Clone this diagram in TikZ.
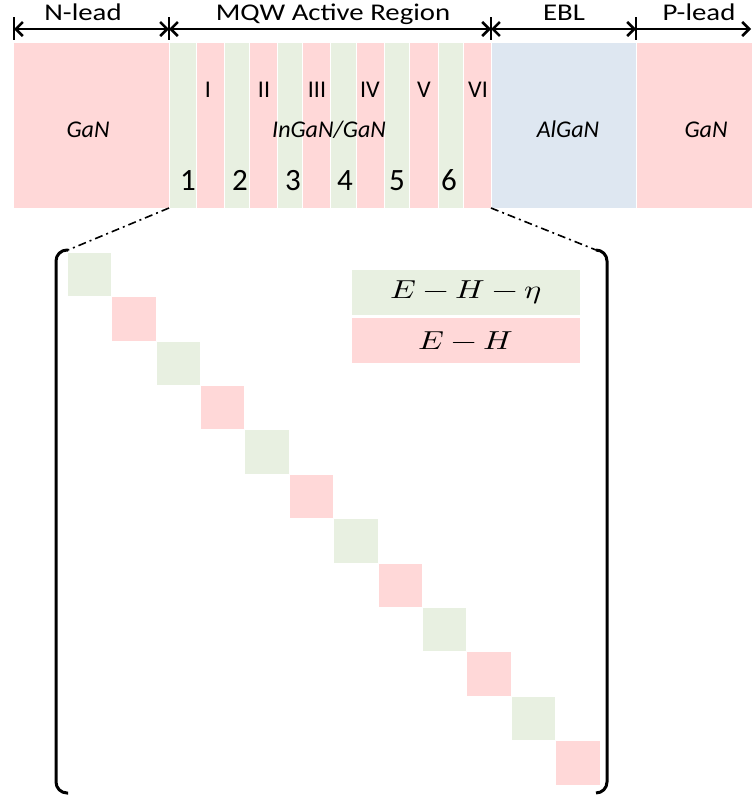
\documentclass[tikz,border=0pt]{standalone}
\usepackage{fontspec}
\usepackage{unicode-math}
\setmainfont{Carlito}
\setmathfont{Latin Modern Math}
\newfontfamily\hdrfont[FakeStretch=1.2]{Carlito}
\usepackage{graphicx}
\usetikzlibrary{arrows.meta}
\definecolor{cpink}{RGB}{255,216,216}
\definecolor{cgreen}{RGB}{232,240,225}
\definecolor{cblue}{RGB}{222,231,241}
\begin{document}
\begin{tikzpicture}[x=1pt,y=-1pt,
  blk/.style={draw=white, line width=0.6pt, inner sep=0pt, outer sep=0pt, anchor=north west, minimum height=166pt},
  sq/.style={draw=white, line width=0.5pt, inner sep=0pt, outer sep=0pt, anchor=north west, minimum size=44.4pt},
  leg/.style={inner sep=0pt, outer sep=0pt, minimum width=228pt, minimum height=45pt, font=\fontsize{26}{30}\selectfont},
  hdr/.style={font=\hdrfont\fontsize{24}{28}\selectfont, anchor=base, inner sep=0pt},
  roman/.style={font=\fontsize{24}{28}\selectfont, anchor=base, inner sep=0pt},
  digit/.style={font=\fontsize{31}{36}\selectfont, anchor=base, inner sep=0pt},
  mat/.style={font=\itshape\fontsize{24}{28}\selectfont, anchor=base, inner sep=0pt},
  dim/.style={line width=2.5pt, {Straight Barb[length=7pt,width=14pt]}-{Straight Barb[length=7pt,width=14pt]}},
  dimr/.style={line width=2.5pt, -{Straight Barb[length=7pt,width=14pt]}},
  barline/.style={line width=2pt},
  dashdot/.style={line width=1.6pt, dash pattern=on 8pt off 4pt on 2pt off 4pt},
  brk/.style={line width=3pt, rounded corners=11pt}
]
\useasboundingbox (0,0) rectangle (752,801);

% --- layer band ---
\node[blk, fill=cpink,  minimum width=156pt] (nGaN) at (13,42) {};
\node[blk, fill=cgreen, minimum width=27pt] (g1) at (169,42) {};
\node[blk, fill=cpink,  minimum width=28pt] (p1) at (196,42) {};
\node[blk, fill=cgreen, minimum width=25pt] (g2) at (224,42) {};
\node[blk, fill=cpink,  minimum width=28pt] (p2) at (249,42) {};
\node[blk, fill=cgreen, minimum width=25pt] (g3) at (277,42) {};
\node[blk, fill=cpink,  minimum width=28pt] (p3) at (302,42) {};
\node[blk, fill=cgreen, minimum width=26pt] (g4) at (330,42) {};
\node[blk, fill=cpink,  minimum width=28pt] (p4) at (356,42) {};
\node[blk, fill=cgreen, minimum width=25pt] (g5) at (384,42) {};
\node[blk, fill=cpink,  minimum width=29pt] (p5) at (409,42) {};
\node[blk, fill=cgreen, minimum width=25pt] (g6) at (438,42) {};
\node[blk, fill=cpink,  minimum width=28pt] (p6) at (463,42) {};
\node[blk, fill=cblue,  minimum width=145pt] (ebl) at (491,42) {};
\node[blk, fill=cpink,  minimum width=116pt] (pGaN) at (636,42) {};

% --- band labels ---
\node[mat] (lGaN1) at (88,137) {GaN};
\node[mat] (lInGaN) at (329,137) {InGaN/GaN};
\node[mat] (lAlGaN) at (568,137) {AlGaN};
\node[mat] (lGaN2) at (706,137) {GaN};

\node[roman] (r1) at (208,97) {I};
\node[roman] (r2) at (264,97) {II};
\node[roman] (r3) at (317,97) {III};
\node[roman] (r4) at (370,97) {IV};
\node[roman] (r5) at (424,97) {V};
\node[roman] (r6) at (478,97) {VI};

\node[digit] (d1) at (188,190) {1};
\node[digit] (d2) at (240,190) {2};
\node[digit] (d3) at (293,190) {3};
\node[digit] (d4) at (345,190) {4};
\node[digit] (d5) at (397,190) {5};
\node[digit] (d6) at (449,190) {6};

% --- header dimension arrows ---
\coordinate (h0) at (14,29);
\coordinate (h1) at (169,29);
\coordinate (h2) at (491,29);
\coordinate (h3) at (636,29);
\coordinate (h4) at (751,29);
\draw[dim] (h0) -- (h1);
\draw[dim] (h1) -- (h2);
\draw[dim] (h2) -- (h3);
\draw[dimr] (h3) -- (h4);
\foreach \h in {h0,h1,h2,h3}{
  \draw[barline] (\h) ++(0,-12) -- ++(0,23);
}
\node[hdr] (tN) at (83,20) {N-lead};
\node[hdr] (tM) at (333,20) {MQW Active Region};
\node[hdr] (tE) at (564,20) {EBL};
\node[hdr] (tP) at (699,20) {P-lead};

% --- zoom lines and bracket ---
\coordinate (lbt) at (68,250);
\coordinate (lbb) at (68,793);
\coordinate (rbt) at (596,250);
\coordinate (rbb) at (596,793);
\draw[dashdot] (g1.south west) -- (lbt);
\draw[dashdot] (p6.south east) -- (rbt);
\draw[brk] (lbt) -- (56,250) -- (56,793) -- (lbb);
\draw[brk] (rbt) -- (607,250) -- (607,793) -- (rbb);

% --- diagonal blocks ---
\foreach \i in {0,...,11}{
  \pgfmathtruncatemacro\m{mod(\i,2)}
  \ifnum\m=0 \def\cc{cgreen}\else\def\cc{cpink}\fi
  \node[sq, fill=\cc] (sq\i) at ({67+44.4*\i},{252+44.4*\i}) {};
}

% --- legend ---
\node[leg, fill=cgreen] (lg1) at (466,292.5) {\scalebox{1.25}[1]{$E-H-\eta$}};
\node[leg, fill=cpink]  (lg2) at (466,340.5) {\scalebox{1.25}[1]{$E-H$}};
\end{tikzpicture}
\end{document}
